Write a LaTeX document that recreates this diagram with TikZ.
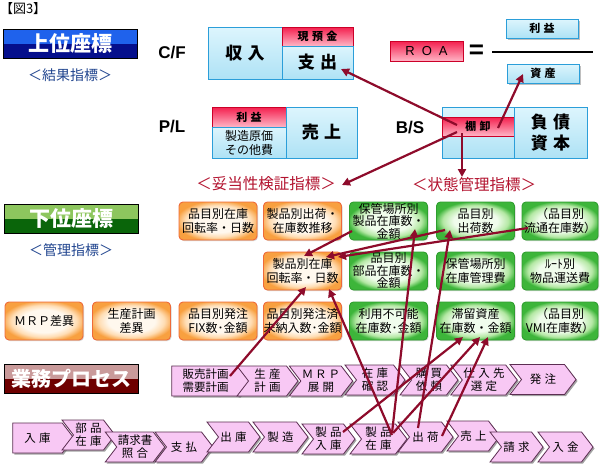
\documentclass[tikz,border=0pt]{standalone}
\usepackage{fontspec}
\setmainfont{Noto Sans CJK JP}
\newfontfamily\latf{Liberation Sans}
\usetikzlibrary{shapes.symbols,arrows.meta,calc,shadows}
\newcommand\myfs[2]{\fontsize{#1}{#2}\selectfont}
\newcommand\jsp{\hspace{0.3em}}
\definecolor{bnBlueLt}{HTML}{1F62EC}
\definecolor{bnBlueDk}{HTML}{050F8C}
\definecolor{bnGrnLt}{HTML}{8DC65E}
\definecolor{bnGrnDk}{HTML}{0A650A}
\definecolor{bnRedLt}{HTML}{C99A9A}
\definecolor{bnRedDk}{HTML}{6E0000}
\definecolor{navyTxt}{HTML}{21458F}
\definecolor{redTxt}{HTML}{B3132F}
\definecolor{arrowRed}{HTML}{8E0B2B}
\definecolor{bxBorder}{HTML}{2B9ED9}
\definecolor{bxTop}{HTML}{DDF5FD}
\definecolor{bxBot}{HTML}{AEE2F5}
\definecolor{rdTop}{HTML}{F41F4E}
\definecolor{rdBot}{HTML}{FFB6C6}
\definecolor{rdBorder}{HTML}{CC0028}
\definecolor{ogIn}{HTML}{FFF8EE}
\definecolor{ogMid}{HTML}{FFDDB4}
\definecolor{ogOut}{HTML}{F8A040}
\definecolor{ogBorder}{HTML}{EE6A3A}
\definecolor{grIn}{HTML}{F0FCEC}
\definecolor{grMid}{HTML}{B4E8A4}
\definecolor{grOut}{HTML}{3DB53A}
\definecolor{grBorder}{HTML}{2F9E2F}
\definecolor{prFill}{HTML}{F8C8F4}
\definecolor{prBorder}{HTML}{5C2E52}
\pgfdeclareradialshading{orglow}{\pgfpoint{0bp}{0bp}}{color(0bp)=(ogIn); color(15bp)=(ogIn); color(21bp)=(ogMid); color(27bp)=(ogOut); color(50bp)=(ogOut)}
\pgfdeclareradialshading{grglow}{\pgfpoint{0bp}{0bp}}{color(0bp)=(grIn); color(14bp)=(grIn); color(21bp)=(grMid); color(26bp)=(grOut); color(50bp)=(grOut)}
\tikzset{
  every node/.style={inner sep=0pt, outer sep=0pt},
  banner/.style={draw=black, line width=0.8pt, minimum width=134pt, minimum height=29pt,
    text=white, font=\bfseries\myfs{21}{21}},
  subtitle/.style={text=navyTxt, font=\myfs{14}{14}},
  abbr/.style={font=\latf\bfseries\myfs{17}{17}},
  bluebox/.style={draw=bxBorder, line width=1pt, top color=bxTop, bottom color=bxBot, align=center},
  redbox/.style={draw=rdBorder, line width=0.8pt, top color=rdTop, bottom color=rdBot, font=\bfseries\myfs{11}{11}},
  smallblue/.style={bluebox, minimum width=72pt, minimum height=19pt, font=\bfseries\myfs{11}{11},
    drop shadow={shadow xshift=1.5pt, shadow yshift=-1.5pt, fill=black!50, opacity=0.5}},
  bigtxt/.style={font=\bfseries\myfs{17}{21}},
  redlabel/.style={text=redTxt, font=\myfs{15.5}{16}},
  gbase/.style={rounded corners=4pt, line width=0.9pt, minimum width=78pt, minimum height=38pt,
    align=center, font=\myfs{12}{14.5},
    drop shadow={shadow xshift=1pt, shadow yshift=-1pt, fill=black!40, opacity=0.4}},
  obox/.style={gbase, draw=ogBorder, shading=orglow},
  gbox/.style={gbase, draw=grBorder, shading=grglow},
  proc/.style={signal, signal to=east, signal from=west, signal pointer angle=105,
    draw=prBorder, line width=0.8pt, fill=prFill, minimum height=30pt, inner sep=1pt,
    align=center, font=\myfs{11.5}{13},
    drop shadow={shadow xshift=1.5pt, shadow yshift=-1.5pt, fill=black!60, opacity=0.6}},
  first/.style={signal from=nowhere},
  link/.style={draw=arrowRed, line width=2.2pt, -{Triangle[length=8pt,width=8pt]}},
}
\begin{document}
\begin{tikzpicture}[x=1pt,y=-1pt]
\useasboundingbox (0,0) rectangle (601,469);
\fill[white] (0,0) rectangle (601,469);

\node[anchor=west, font=\myfs{13}{13}] (title) at (0,9) {【図3】};

% banners
\node[banner, fill=bnBlueDk, path picture={\fill[bnBlueLt] (path picture bounding box.north west) rectangle (path picture bounding box.east);}] (upper) at (70,44) {上位座標};
\node[subtitle] (kekka) at (70,75) {＜結果指標＞};
\node[banner, fill=bnGrnDk, path picture={\fill[bnGrnLt] (path picture bounding box.north west) rectangle (path picture bounding box.east);}] (lower) at (71,219) {下位座標};
\node[subtitle] (kanri) at (71,250) {＜管理指標＞};
\node[banner, fill=bnRedDk, font=\bfseries\myfs{20}{20}, path picture={\fill[bnRedLt] (path picture bounding box.north west) rectangle (path picture bounding box.east);}] (gyomu) at (71,378.5) {業務プロセス};

% abbreviations
\node[abbr] (cf) at (172,53) {C/F};
\node[abbr] (pl) at (172,127) {P/L};
\node[abbr] (bs) at (410,128) {B/S};

% C/F
\node[bluebox, bigtxt, minimum width=74pt, minimum height=52pt] (cfIn) at (245,53) {収\jsp 入};
\node[redbox, minimum width=71pt, minimum height=19pt] (cfCash) at (317.5,36.5) {現\jsp 預\jsp 金};
\node[bluebox, bigtxt, minimum width=71pt, minimum height=33pt] (cfOut) at (317.5,62.5) {支\jsp 出};

% P/L
\node[redbox, minimum width=74pt, minimum height=20pt] (plProfit) at (249,117) {利\jsp 益};
\node[bluebox, minimum width=74pt, minimum height=31pt, font=\myfs{12}{14}] (plCost) at (249,142.5) {製造原価\\その他費};
\node[bluebox, bigtxt, minimum width=71pt, minimum height=51pt] (plSales) at (321.5,132.5) {売\jsp 上};

% B/S
\node[bluebox, minimum width=72pt, minimum height=51pt] (bsAsset) at (478,132.5) {};
\node[redbox, minimum width=72pt, minimum height=19pt] (tana) at (478,126.5) {棚\jsp 卸};
\node[bluebox, bigtxt, minimum width=73pt, minimum height=51pt] (bsLiab) at (550.5,132.5) {負\jsp 債\\資\jsp 本};

% ROA
\node[redbox, minimum width=73pt, minimum height=20pt, font=\latf\myfs{13}{13}] (roa) at (426.5,51) {R\hspace{7pt}O\hspace{7pt}A};
\node[font=\latf\bfseries\myfs{26}{26}] (eq) at (476.5,52) {=};
\coordinate (fracL) at (492,52);
\coordinate (fracR) at (593,52);
\draw[line width=2pt] (fracL) -- (fracR);
\node[smallblue] (rieki) at (542,28.5) {利\jsp 益};
\node[smallblue] (shisan) at (543,73.5) {資\jsp 産};

% category labels
\node[redlabel] (dato) at (266,184) {＜妥当性検証指標＞};
\node[redlabel] (jotai) at (474,185) {＜状態管理指標＞};

% row 1
\node[obox] (c1) at (218,221) {品目別在庫\\回転率・日数};
\node[obox] (d1) at (302.5,221) {製品別出荷・\\在庫数推移};
\node[gbox, font=\myfs{12}{12.5}] (e1) at (388.5,221) {保管場所別\\製品在庫数・\\金額};
\node[gbox] (f1) at (475.5,221) {品目別\\出荷数};
\node[gbox, minimum width=76pt] (g1) at (560,221) {（品目別\\流通在庫数）};
% row 2
\node[obox] (d2) at (302.5,271) {製品別在庫\\回転率・日数};
\node[gbox, font=\myfs{12}{12.5}] (e2) at (388.5,271) {品目別\\部品在庫数・\\金額};
\node[gbox] (f2) at (475.5,271) {保管場所別\\在庫管理費};
\node[gbox, minimum width=76pt] (g2) at (560,271) {ﾙｰﾄ別\\物品運送費};
% row 3
\node[obox] (a3) at (44,321) {ＭＲＰ差異};
\node[obox] (b3) at (131.5,321) {生産計画\\差異};
\node[obox] (c3) at (218,321) {品目別発注\\FIX数･金額};
\node[obox] (d3) at (302.5,321) {品目別発注済\\未納入数･金額};
\node[gbox] (e3) at (388.5,321) {利用不可能\\在庫数･金額};
\node[gbox] (f3) at (475.5,321) {滞留資産\\在庫数・金額};
\node[gbox, minimum width=76pt] (g3) at (560,321) {（品目別\\VMI在庫数）};

% process row 1
\node[proc, first, minimum width=79pt] (p1) at (205.5,381) {販売計画\\需要計画};
\node[proc, minimum width=61pt] (p2) at (267.5,381) {生\jsp 産\\計\jsp 画};
\node[proc, minimum width=62pt] (p3) at (321,381) {Ｍ\,Ｒ\,Ｐ\\展\jsp 開};
\node[proc, minimum width=60pt] (p4) at (375,380) {在\jsp 庫\\確\jsp 認};
\node[proc, minimum width=58pt] (p5) at (429,380) {購\jsp 買\\依\jsp 頼};
\node[proc, minimum width=64pt] (p6) at (484,380) {仕\jsp 入\jsp 先\\選\jsp 定};
\node[proc, minimum width=66pt] (p7) at (543,379.5) {発\jsp 注};

% process row 2
\node[proc, first, minimum width=61pt] (q1) at (37.5,438) {入\jsp 庫};
\node[proc, minimum width=53pt] (q2) at (88.5,435) {部\jsp 品\\在\jsp 庫};
\node[proc, minimum width=50pt] (q3) at (135,447) {請求書\\照\jsp 合};
\node[proc, minimum width=58pt] (q4) at (184,447) {支\jsp 払};
\node[proc, minimum width=53pt] (q5) at (233.5,437) {出\jsp 庫};
\node[proc, minimum width=55pt] (q6) at (280.5,437) {製\jsp 造};
\node[proc, minimum width=53pt] (q7) at (328.5,439) {製\jsp 品\\入\jsp 庫};
\node[proc, minimum width=57pt] (q8) at (378.5,439) {製\jsp 品\\在\jsp 庫};
\node[proc, minimum width=55pt] (q9) at (425.5,437) {出\jsp 荷};
\node[proc, minimum width=53pt] (q10) at (473.5,436) {売\jsp 上};
\node[proc, minimum width=53pt] (q11) at (516.5,447) {請\jsp 求};
\node[proc, minimum width=55pt] (q12) at (565.5,447) {入\jsp 金};

% arrows
\draw[link] ($(tana.center)+(-21,-1.5)$) -- ($(cfOut.center)+(23.5,6.5)$);
\draw[link] ($(tana.center)+(20,1.5)$) -- ($(shisan.center)+(-20,0.5)$);
\draw[link] ($(tana.center)+(-21,5.5)$) -- ($(dato.center)+(76,1)$);
\draw[link] ($(tana.center)+(-16,6.5)$) -- ($(jotai.center)+(-12,-8)$);
\draw[link] ($(e1.center)+(-36.5,10)$) -- ($(d2.center)+(1.5,-15)$);
\draw[link] ($(f1.center)+(-30.5,9)$) -- ($(d2.center)+(23.5,-14)$);
\draw[link] ($(g1.center)+(-32,7)$) -- ($(d2.center)+(35.5,-14)$);
\draw[link] ($(p1.center)+(24.5,-5)$) -- ($(d2.center)+(3.5,16)$);
\draw[link] ($(q8.center)+(13.5,-4)$) -- ($(d2.center)+(26.5,18)$);
\draw[link] ($(q8.center)+(13.5,-6)$) -- ($(e1.center)+(26.5,8)$);
\draw[link] ($(q9.center)+(-7.5,-9)$) -- ($(f1.center)+(-25.5,9)$);
\draw[link] ($(q7.center)+(14.5,-7)$) -- ($(f3.center)+(-12.5,16)$);
\draw[link] ($(q8.center)+(14.5,-6)$) -- ($(f3.center)+(4.5,16)$);
\draw[link] ($(q9.center)+(16.5,-1)$) -- ($(f3.center)+(12.5,16)$);
\end{tikzpicture}
\end{document}
